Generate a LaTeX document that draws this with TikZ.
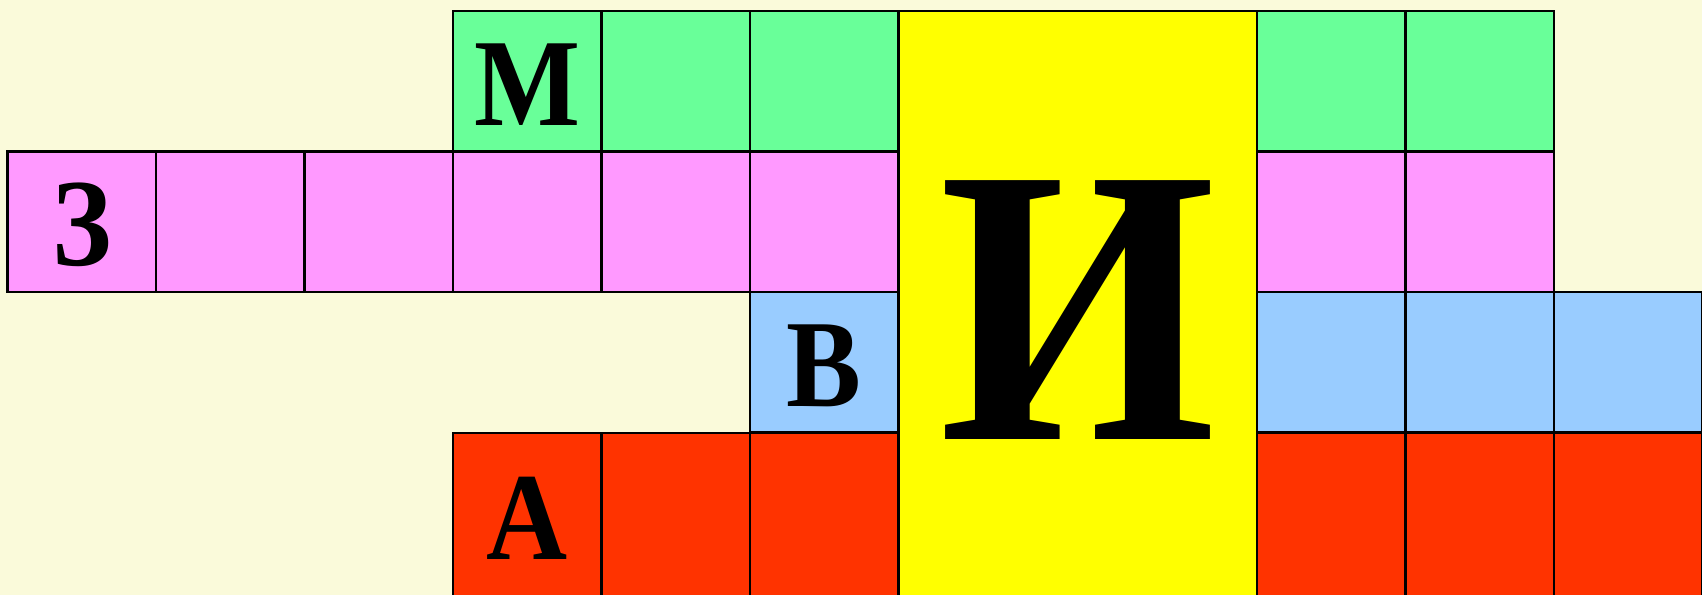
\documentclass[tikz,border=0pt]{standalone}
\usepackage{fontspec}
\setmainfont{Liberation Serif}
\newfontfamily\cellfont[FakeStretch=0.9]{Liberation Serif}
\usetikzlibrary{positioning}
\definecolor{cwCream}{HTML}{FAFADA}
\definecolor{cwGreen}{HTML}{69FF99}
\definecolor{cwPink}{HTML}{FF99FF}
\definecolor{cwBlue}{HTML}{99CCFF}
\definecolor{cwRed}{HTML}{FF3300}
\definecolor{cwYellow}{HTML}{FFFF00}

\begin{document}
\begin{tikzpicture}[
    cell/.style={draw=black, line width=1.4pt, rectangle, inner sep=0pt, minimum width=2.97cm, minimum height=2.81cm,
                 text height=1.77cm, text depth=0pt, font=\cellfont\fontsize{71}{71}\selectfont\bfseries},
    cellGreen/.style={cell, fill=cwGreen},
    cellPink/.style={cell, fill=cwPink},
    cellBlue/.style={cell, fill=cwBlue},
    cellRed/.style={cell, fill=cwRed, minimum height=3.3cm},
    keyCol/.style={cell, fill=cwYellow, minimum width=7.17cm, minimum height=11.74cm,
                   text height=5.40cm, font=\cellfont\fontsize{225}{225}\selectfont\bfseries},
]
\useasboundingbox (0,0) rectangle (34.04,-11.9);
\fill[cwCream] (0,0) rectangle (34.04,-11.9);
\clip (0,0) rectangle (34.04,-11.9);
% key column
\node[keyCol]    (key) at (21.555, -6.09) {И};
% green word
\node[cellGreen] (m1) at (10.545, -1.625) {М};
\node[cellGreen] (m2) at (13.515, -1.625) {};
\node[cellGreen] (m3) at (16.485, -1.625) {};
\node[cellGreen] (m5) at (26.625, -1.625) {};
\node[cellGreen] (m6) at (29.595, -1.625) {};
% pink word
\node[cellPink]  (z1) at ( 1.635, -4.435) {З};
\node[cellPink]  (z2) at ( 4.605, -4.435) {};
\node[cellPink]  (z3) at ( 7.575, -4.435) {};
\node[cellPink]  (z4) at (10.545, -4.435) {};
\node[cellPink]  (z5) at (13.515, -4.435) {};
\node[cellPink]  (z6) at (16.485, -4.435) {};
\node[cellPink]  (z8) at (26.625, -4.435) {};
\node[cellPink]  (z9) at (29.595, -4.435) {};
% blue word
\node[cellBlue]  (v1) at (16.485, -7.245) {В};
\node[cellBlue]  (v3) at (26.625, -7.245) {};
\node[cellBlue]  (v4) at (29.595, -7.245) {};
\node[cellBlue]  (v5) at (32.565, -7.245) {};
% red word
\node[cellRed]   (a1) at (10.545, -10.305) {А};
\node[cellRed]   (a2) at (13.515, -10.305) {};
\node[cellRed]   (a3) at (16.485, -10.305) {};
\node[cellRed]   (a5) at (26.625, -10.305) {};
\node[cellRed]   (a6) at (29.595, -10.305) {};
\node[cellRed]   (a7) at (32.565, -10.305) {};
\end{tikzpicture}
\end{document}
